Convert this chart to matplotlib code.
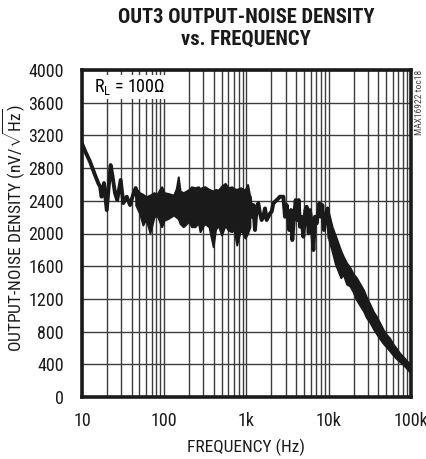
import matplotlib
matplotlib.use("Agg")
import matplotlib.pyplot as plt
from matplotlib import font_manager
from matplotlib.ticker import FixedLocator, FixedFormatter, NullFormatter

names = {f.name for f in font_manager.fontManager.ttflist}
cond = None
for cand in ['Liberation Sans Narrow', 'DejaVu Sans Condensed', 'Roboto Condensed',
             'Open Sans Condensed', 'Noto Sans Condensed', 'Arial Narrow']:
    if cand in names:
        cond = cand
        break
stretch = 'normal'
if cond is None:
    if any(f.name == 'DejaVu Sans' and str(f.stretch) in ('condensed', 'semi-condensed')
           for f in font_manager.fontManager.ttflist):
        cond = 'DejaVu Sans'
        stretch = 'condensed'
SCALE = 1.0
if cond is None:
    cond = 'Roboto'
    SCALE = 0.88

plt.rcParams['font.family'] = [cond, 'DejaVu Sans']
plt.rcParams['font.stretch'] = stretch
plt.rcParams['mathtext.fontset'] = 'custom'
plt.rcParams['mathtext.rm'] = cond
plt.rcParams['mathtext.it'] = cond

# ---- data ----
freq_low = [10, 11, 12.5, 14.4, 15.8, 16.6, 17.3, 18.5, 20, 21, 22.3, 23.5, 25.2,
            26.8, 29.5, 31.8, 35, 38.4, 42, 45, 48.5]
nd_low = [3100, 3000, 2880, 2715, 2613, 2572, 2450, 2617, 2287, 2550, 2837, 2700, 2495,
          2409, 2654, 2372, 2450, 2348, 2480, 2556, 2348]

freq_band1 = [45, 50, 55, 60, 67, 75, 81, 93, 100, 110, 130, 140, 148, 156, 170, 178,
              200, 214, 236, 260, 272, 300, 313, 350, 393, 420, 454, 497, 550, 600,
              660, 700, 760, 850, 960, 1030, 1100]
nd_band1_hi = [2556, 2500, 2480, 2450, 2470, 2500, 2480, 2572, 2500, 2491, 2470, 2550,
               2694, 2520, 2500, 2510, 2540, 2572, 2560, 2572, 2550, 2570, 2572, 2540,
               2520, 2540, 2531, 2580, 2613, 2560, 2572, 2550, 2540, 2560, 2531, 2600, 2450]
nd_band1_lo = [2348, 2250, 2104, 2180, 2006, 2200, 2230, 2083, 2165, 2180, 2226, 2200,
               2180, 2120, 2083, 2100, 2150, 2083, 2083, 2130, 2022, 2100, 2120, 2080,
               1838, 2050, 2100, 1981, 2100, 2040, 2022, 2060, 1859, 2050, 1944, 2000, 2083]

freq_mid = [1103, 1157, 1211, 1268, 1330, 1392, 1459, 1528, 1602, 1679, 1758, 1844,
            1931, 2023, 2120, 2329, 2553, 2805, 2938, 3083, 3311, 3475, 3606, 3782,
            3963, 4150, 4315, 4467, 4688, 4909, 5189, 5395, 5703, 5916, 6209, 6501,
            6808, 7145, 7677, 8054, 8356, 8750, 9183, 9705, 10160]
nd_mid = [2430, 2205, 2348, 2042, 2328, 2369, 2246, 2165, 2205, 2307, 2165, 2205,
          2246, 2267, 2369, 2409, 2450, 2450, 2205, 2348, 2042, 2287, 1920, 2205,
          2409, 2165, 2409, 2083, 2205, 1961, 2287, 2328, 2002, 2287, 2124, 1798,
          2205, 2124, 2369, 2205, 2348, 2042, 2205, 2307, 1961]

freq_band2 = [10000, 11000, 12000, 13000, 14000, 15000, 16500, 18000, 19700, 21700,
              23600, 26500, 28600, 31800, 34800, 38000, 41800, 46000, 50500, 55000,
              61000, 66000, 73600, 80000, 88700, 100000]
nd_band2_hi = [2250, 2080, 1980, 1880, 1790, 1720, 1640, 1590, 1510, 1460, 1395, 1309,
               1225, 1130, 1045, 985, 905, 822, 762, 720, 642, 598, 532, 495, 442, 391]
nd_band2_lo = [1930, 1780, 1630, 1540, 1460, 1500, 1380, 1360, 1290, 1190, 1130, 1050,
               975, 910, 835, 775, 712, 655, 610, 565, 510, 472, 430, 398, 350, 290]

x_ticks = [10, 100, 1000, 10000, 100000]
x_tick_labels = ['10', '100', '1k', '10k', '100k']
y_ticks = list(range(0, 4001, 400))

# ---- figure ----
fig = plt.figure(figsize=(4.27, 4.59), dpi=100)
ax = fig.add_axes([82 / 427, 1 - 397 / 459, (411 - 82) / 427, (397 - 70) / 459])

ax.set_xscale('log')
ax.set_xlim(10, 100000)
ax.set_ylim(0, 4000)

ax.xaxis.set_major_locator(FixedLocator(x_ticks))
ax.xaxis.set_major_formatter(FixedFormatter(x_tick_labels))
minor = [m * d for d in [10, 100, 1000, 10000] for m in range(2, 10)]
ax.xaxis.set_minor_locator(FixedLocator(minor))
ax.xaxis.set_minor_formatter(NullFormatter())
ax.yaxis.set_major_locator(FixedLocator(y_ticks))

gc = '#3c3c3c'
ax.grid(True, which='major', color=gc, lw=1.0)
ax.grid(True, which='minor', axis='x', color=gc, lw=1.0)
ax.set_axisbelow(True)

fs_tick = 13 * SCALE
fs = 12.5 * SCALE
ax.tick_params(which='both', length=0, labelsize=fs_tick, pad=13, colors='#1a1a1a')
ax.tick_params(axis='x', pad=11)

for s in ax.spines.values():
    s.set_linewidth(2.6)
    s.set_color('#1a1a1a')

tc = '#1a1a1a'
ax.plot(freq_low, nd_low, color=tc, lw=2.8, solid_joinstyle='round', zorder=3)
ax.fill_between(freq_band1, nd_band1_lo, nd_band1_hi, color=tc, lw=1.4,
                edgecolor=tc, zorder=3)
ax.plot(freq_mid, nd_mid, color=tc, lw=2.8, solid_joinstyle='round', zorder=3)
ax.fill_between(freq_band2, nd_band2_lo, nd_band2_hi, color=tc, lw=1.4,
                edgecolor=tc, zorder=3)

ax.text(0.035, 0.978, r'R$_\mathrm{L}$ = 100Ω', transform=ax.transAxes, fontsize=13 * SCALE,
        ha='left', va='top', zorder=5,
        bbox=dict(facecolor='white', edgecolor='none', pad=1.5))

ax.set_xlabel('FREQUENCY (Hz)', fontsize=fs, labelpad=6, color=tc)
ax.set_ylabel(r'OUTPUT-NOISE DENSITY (nV/$\sqrt{\mathrm{Hz}}$)', fontsize=fs, color=tc)
ax.yaxis.set_label_coords(-0.168, 0.515)

fig.text(246 / 427, 1 - 8 / 459, 'OUT3 OUTPUT-NOISE DENSITY\nvs. FREQUENCY',
         ha='center', va='top', fontsize=14.8 * SCALE, fontweight='bold',
         linespacing=1.15, color=tc)

fig.text(419.5 / 427, 1 - 70 / 459, 'MAX16922 toc18', rotation=90, ha='center',
         va='top', fontsize=6.8 * SCALE, color='#444444')

fig.savefig('out.png', dpi=100)
